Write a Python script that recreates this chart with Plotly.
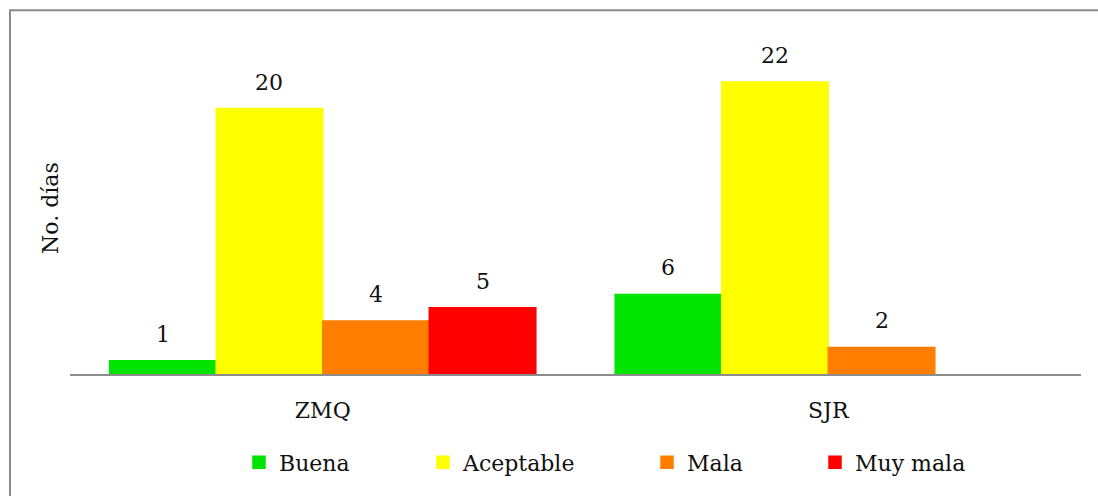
import plotly.graph_objects as go

# Días por categoría de calidad del aire en cada estación
categorias = ["ZMQ", "SJR"]
series = ["Buena", "Aceptable", "Mala", "Muy mala"]
buena = [1, 6]
aceptable = [20, 22]
mala = [4, 2]
muy_mala = [5, None]
colores = ["#00E400", "#FFFF00", "#FF7E00", "#FF0000"]

valores = [buena, aceptable, mala, muy_mala]

FONT = "DejaVu Serif"
TEXT_COLOR = "#111111"
W, H = 1098, 496
L, R, T, B = 70, 17, 29, 116
BARGAP = 0.157
plot_w = W - L - R
plot_h = H - T - B


def px_x(px):
    return (px - L) / plot_w


def px_y(py):
    return (H - B - py) / plot_h


fig = go.Figure()
legend_centers = [259, 443, 667, 835]
for i, (nombre, vals, color) in enumerate(zip(series, valores, colores)):
    leg = "legend" if i == 0 else f"legend{i + 1}"
    fig.add_trace(go.Bar(
        x=categorias, y=vals, name=nombre,
        marker=dict(color=color, line=dict(color=color, width=1.5)),
        legend=leg,
    ))

# Value labels above each bar
n = len(series)
slot = (1 - BARGAP) / n
annotations = []
for si, vals in enumerate(valores):
    for ci, v in enumerate(vals):
        if v is None:
            continue
        annotations.append(dict(
            x=ci + (si - (n - 1) / 2) * slot, y=v, xref="x", yref="y",
            text=str(v), showarrow=False, yanchor="bottom", yshift=12,
            font=dict(family=FONT, size=22, color=TEXT_COLOR),
        ))

# Y-axis title
annotations.append(dict(
    x=px_x(51), y=px_y(211), xref="paper", yref="paper",
    text="No. días", textangle=-90, showarrow=False,
    xanchor="center", yanchor="middle",
    font=dict(family=FONT, size=22, color=TEXT_COLOR),
))

legend_common = dict(
    orientation="h", yanchor="middle", xanchor="left",
    bgcolor="rgba(0,0,0,0)", borderwidth=0,
    font=dict(family=FONT, size=22, color=TEXT_COLOR),
    itemclick=False, itemdoubleclick=False,
)
legends = {}
for i, cx in enumerate(legend_centers):
    key = "legend" if i == 0 else f"legend{i + 1}"
    legends[key] = dict(legend_common, x=px_x(cx - 20), y=px_y(470))

fig.update_layout(
    width=W, height=H,
    margin=dict(l=L, r=R, t=T, b=B, pad=0),
    paper_bgcolor="white", plot_bgcolor="white",
    barmode="group", bargap=BARGAP, bargroupgap=0,
    showlegend=True,
    font=dict(family=FONT, size=22, color=TEXT_COLOR),
    xaxis=dict(
        showline=True, linecolor="#8C8C8C", linewidth=2,
        showgrid=False, ticks="", ticklabelstandoff=16,
        tickfont=dict(family=FONT, size=22, color=TEXT_COLOR),
        fixedrange=True,
    ),
    yaxis=dict(
        range=[0, 26], showgrid=False, zeroline=False, showline=False,
        showticklabels=False, ticks="", fixedrange=True,
    ),
    annotations=annotations,
    shapes=[dict(
        type="rect", xref="paper", yref="paper", layer="below",
        x0=px_x(10), x1=px_x(W + 20), y0=px_y(H + 20), y1=px_y(10),
        line=dict(color="#8A8A8A", width=2), fillcolor="rgba(0,0,0,0)",
    )],
    **legends,
)

fig.write_html("out.html", config={"displayModeBar": False})
